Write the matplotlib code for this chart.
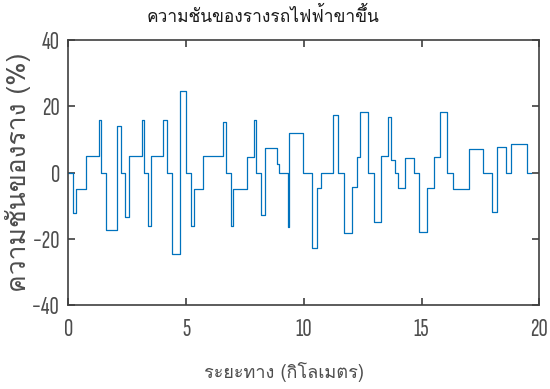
import matplotlib
matplotlib.use("Agg")
import matplotlib.pyplot as plt

# กิโลเมตรที่ความชันเปลี่ยนค่า (จุดเริ่มของแต่ละช่วง) และจุดสิ้นสุดของเส้นทาง
distance_km = [
    0.00, 0.21, 0.34, 0.76, 1.29, 1.37, 1.61, 2.05, 2.25, 2.42,
    2.58, 3.11, 3.21, 3.40, 3.52, 4.03, 4.17, 4.42, 4.75, 4.99,
    5.23, 5.34, 5.74, 6.58, 6.68, 6.89, 7.00, 7.58, 7.88, 7.98,
    8.19, 8.36, 8.86, 8.94, 9.34, 9.36, 9.96, 10.34, 10.55, 10.74,
    11.25, 11.47, 11.72, 12.03, 12.25, 12.39, 12.71, 12.97, 13.28, 13.56,
    13.72, 13.86, 13.98, 14.28, 14.66, 14.89, 15.25, 15.54, 15.79, 16.10,
    16.33, 17.03, 17.62, 18.00, 18.22, 18.59, 18.80, 19.47,
]
end_km = 19.64

# ความชัน (%) ของแต่ละช่วง
gradient_pct = [
    0.0, -12.1, -4.9, 5.0, 15.8, 0.0, -17.4, 14.1, 0.0, -13.3,
    5.0, 15.9, 0.0, -16.0, 5.0, 15.8, 0.0, -24.7, 24.5, 0.0,
    -16.0, -4.9, 5.0, 15.1, 0.0, -16.0, -4.9, 4.8, 15.9, 0.0,
    -12.9, 7.4, 2.6, 0.0, -16.4, 12.0, 0.0, -22.7, -4.7, 0.0,
    17.4, 0.0, -18.2, -4.4, 4.7, 18.2, 0.0, -14.9, 4.9, 16.7,
    3.9, 0.0, -4.7, 4.5, 0.0, -18.0, -4.7, 4.7, 18.2, 0.0,
    -5.0, 7.2, 0.0, -11.9, 7.7, 0.0, 8.6, 0.0,
]

x_ticks = [0, 5, 10, 15, 20]
y_ticks = [-40, -20, 0, 20, 40]

TITLE = "ความชันของรางรถไฟฟ้าขาขึ้น"
X_LABEL = "ระยะทาง (กิโลเมตร)"
Y_LABEL = "ความชันของราง (%)"

NUM_FONTS = ["Sofia Sans Extra Condensed", "DejaVu Sans"]
THAI_FONTS = ["Loma", "Noto Sans Thai Looped", "DejaVu Sans"]
plt.rcParams["font.family"] = NUM_FONTS

AXIS_GREY = "#404040"
TEXT_GREY = "#4d4d4d"
LINE_BLUE = "#0072BD"

fig = plt.figure(figsize=(5.5, 3.89), dpi=100)
ax = fig.add_axes([68.3 / 550, 84 / 389, 471 / 550, 265 / 389])

xs = distance_km + [end_km]
ys = gradient_pct + [gradient_pct[-1]]
ax.plot(xs, ys, drawstyle="steps-post", color=LINE_BLUE, linewidth=0.9)

ax.set_xlim(0, 20)
ax.set_ylim(-40, 40)
ax.set_xticks(x_ticks)
ax.set_yticks(y_ticks)

for spine in ax.spines.values():
    spine.set_color(AXIS_GREY)
    spine.set_linewidth(1.2)
ax.tick_params(direction="in", length=5, width=1.2, color=AXIS_GREY,
               top=True, right=True, labelsize=18.5, labelcolor=TEXT_GREY)
ax.tick_params(axis="x", pad=9)
ax.tick_params(axis="y", pad=6)

ax.text(0.413, 1.087, TITLE, transform=ax.transAxes, ha="center", va="center",
        fontsize=12.5, color="#1a1a1a", family=THAI_FONTS)

ax.set_xlabel(X_LABEL, fontsize=13, color=TEXT_GREY, family=THAI_FONTS)
ax.xaxis.label.set_va("center")
ax.xaxis.set_label_coords(0.457, -0.253)

ax.set_ylabel(Y_LABEL, fontsize=19, color=TEXT_GREY, family=THAI_FONTS)
ax.yaxis.label.set_va("center")
ax.yaxis.set_label_coords(-0.106, 0.5)

fig.savefig("out.png", dpi=100)
